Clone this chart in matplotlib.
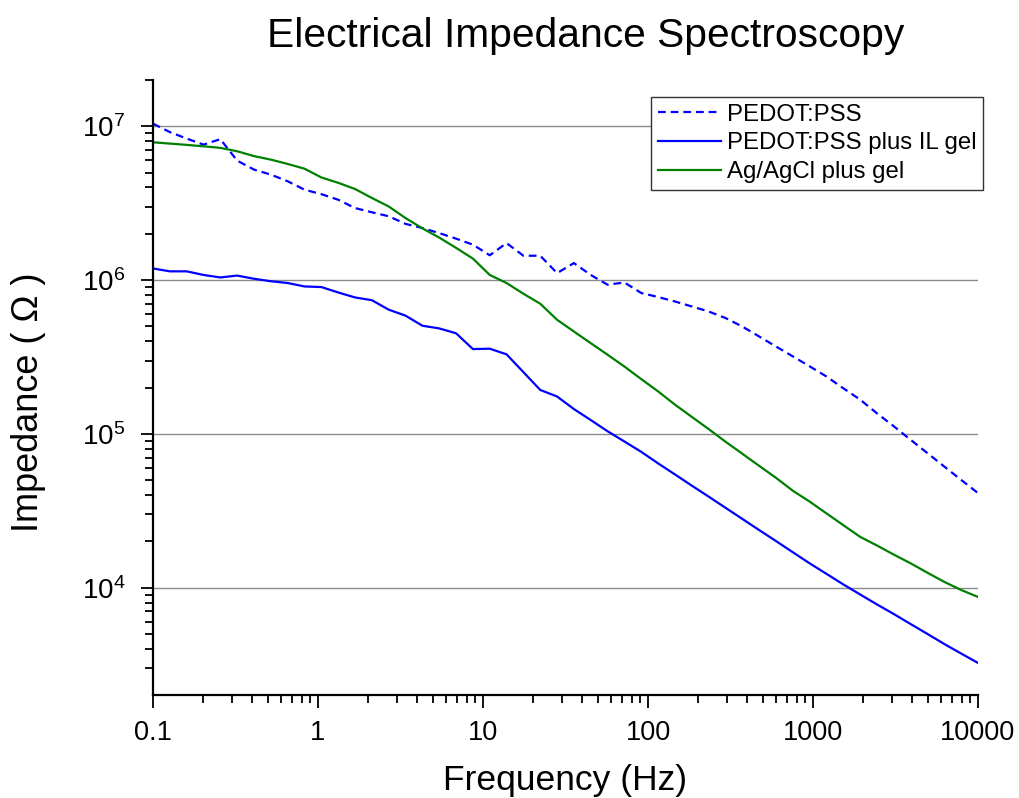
import numpy as np
import matplotlib
matplotlib.use("Agg")
import matplotlib.pyplot as plt
from matplotlib.ticker import LogLocator, FixedLocator, FixedFormatter, NullFormatter

plt.rcParams['font.family'] = ['Liberation Sans', 'DejaVu Sans']
plt.rcParams['mathtext.fontset'] = 'custom'
plt.rcParams['mathtext.rm'] = 'Liberation Sans'
plt.rcParams['mathtext.it'] = 'Liberation Sans:italic'
plt.rcParams['mathtext.bf'] = 'Liberation Sans:bold'

# Frequency (Hz), 50 log-spaced points 0.1 .. 10000
freq = [0.1, 0.1265, 0.16, 0.2024, 0.256, 0.3237, 0.4095, 0.518, 0.6551, 0.8286,
        1.048, 1.326, 1.677, 2.121, 2.683, 3.393, 4.292, 5.429, 6.866, 8.685,
        10.985, 13.89, 17.58, 22.23, 28.12, 35.56, 44.98, 56.9, 71.97, 91.03,
        115.1, 145.6, 184.2, 233.0, 294.7, 372.8, 471.5, 596.4, 754.4, 954.1,
        1207, 1526, 1931, 2442, 3089, 3907, 4942, 6251, 7906, 10000]

pedot = [1.04e7, 9.17e6, 8.32e6, 7.60e6, 8.25e6, 5.98e6, 5.23e6, 4.85e6, 4.39e6, 3.87e6,
         3.62e6, 3.33e6, 2.94e6, 2.76e6, 2.60e6, 2.32e6, 2.18e6, 2.02e6, 1.86e6, 1.70e6,
         1.45e6, 1.74e6, 1.44e6, 1.44e6, 1.11e6, 1.29e6, 1.08e6, 9.33e5, 9.65e5, 8.24e5,
         7.76e5, 7.26e5, 6.74e5, 6.25e5, 5.67e5, 4.99e5, 4.30e5, 3.70e5, 3.19e5, 2.75e5,
         2.36e5, 1.98e5, 1.67e5, 1.36e5, 1.12e5, 9.15e4, 7.49e4, 6.13e4, 5.02e4, 4.12e4]

pedot_il = [1.19e6, 1.14e6, 1.14e6, 1.08e6, 1.04e6, 1.07e6, 1.02e6, 9.83e5, 9.57e5, 9.09e5,
            9.01e5, 8.31e5, 7.71e5, 7.40e5, 6.42e5, 5.87e5, 5.05e5, 4.85e5, 4.51e5, 3.56e5,
            3.58e5, 3.29e5, 2.52e5, 1.93e5, 1.75e5, 1.45e5, 1.23e5, 1.04e5, 8.92e4, 7.64e4,
            6.43e4, 5.45e4, 4.61e4, 3.91e4, 3.31e4, 2.80e4, 2.37e4, 2.01e4, 1.70e4, 1.44e4,
            1.23e4, 1.05e4, 9.03e3, 7.78e3, 6.74e3, 5.80e3, 5.00e3, 4.30e3, 3.73e3, 3.24e3]

agcl = [7.87e6, 7.72e6, 7.57e6, 7.41e6, 7.24e6, 6.88e6, 6.40e6, 6.07e6, 5.69e6, 5.30e6,
        4.65e6, 4.29e6, 3.91e6, 3.42e6, 3.01e6, 2.53e6, 2.17e6, 1.89e6, 1.62e6, 1.38e6,
        1.08e6, 9.57e5, 8.15e5, 7.02e5, 5.52e5, 4.63e5, 3.89e5, 3.27e5, 2.74e5, 2.27e5,
        1.89e5, 1.55e5, 1.29e5, 1.075e5, 8.90e4, 7.43e4, 6.20e4, 5.18e4, 4.27e4, 3.63e4,
        3.04e4, 2.55e4, 2.14e4, 1.88e4, 1.64e4, 1.44e4, 1.25e4, 1.09e4, 9.66e3, 8.70e3]

labels = ['PEDOT:PSS', 'PEDOT:PSS plus IL gel', 'Ag/AgCl plus gel']
xticks = [0.1, 1, 10, 100, 1000, 10000]
xticklabels = ['0.1', '1', '10', '100', '1000', '10000']

W, H = 1020, 798
fig = plt.figure(figsize=(W / 100, H / 100), dpi=100)
ax = fig.add_axes([153 / W, 1 - 695 / H, (978 - 153) / W, (695 - 80) / H])

ax.plot(freq, pedot, color='#0000FF', lw=1.6, dashes=(3.5, 2.2), label=labels[0])
ax.plot(freq, pedot_il, color='#0000FF', lw=1.6, label=labels[1])
ax.plot(freq, agcl, color='#008000', lw=1.6, label=labels[2])

ax.set_xscale('log')
ax.set_yscale('log')
ax.set_xlim(0.1, 10000)
ax.set_ylim(2005, 2.0e7)

ax.xaxis.set_major_locator(FixedLocator(xticks))
ax.xaxis.set_major_formatter(FixedFormatter(xticklabels))
ax.xaxis.set_minor_locator(LogLocator(base=10, subs=np.arange(2, 10)))
ax.xaxis.set_minor_formatter(NullFormatter())
ax.yaxis.set_major_locator(LogLocator(base=10, numticks=20))
ax.yaxis.set_minor_locator(LogLocator(base=10, subs=np.arange(2, 10), numticks=20))
ax.yaxis.set_minor_formatter(NullFormatter())

ax.grid(True, which='major', axis='y', color='#8c8c8c', lw=1.0)
ax.set_axisbelow(True)

for s in ['top', 'right']:
    ax.spines[s].set_visible(False)
for s in ['left', 'bottom']:
    ax.spines[s].set_linewidth(1.6)
    ax.spines[s].set_color('black')

ax.tick_params(axis='both', which='major', direction='out', length=9, width=1.3,
               labelsize=19.5, colors='black')
ax.tick_params(axis='both', which='minor', direction='out', length=5.5, width=1.3)
ax.tick_params(axis='y', which='major', pad=11, labelsize=20)
ax.tick_params(axis='x', which='major', pad=9)

ax.set_xlabel('Frequency (Hz)', fontsize=25.5, labelpad=13)
ax.set_ylabel('Impedance ( \u03a9 )', fontsize=26)
ax.yaxis.set_label_coords((46 - 153) / 825, (695 - 402) / 615)

fig.text(586 / W, 1 - 36 / H, 'Electrical Impedance Spectroscopy', fontsize=29.3,
         ha='center', va='center')

leg = ax.legend(loc='upper right', bbox_to_anchor=(983 / W, 1 - 97 / H),
                bbox_transform=fig.transFigure, borderaxespad=0, fontsize=17.3,
                frameon=True, fancybox=False, framealpha=1, edgecolor='#333333',
                handlelength=2.6, handletextpad=0.25, labelspacing=0.28,
                borderpad=0.28)
leg.get_frame().set_linewidth(1.0)

fig.savefig('out.png', dpi=100)
